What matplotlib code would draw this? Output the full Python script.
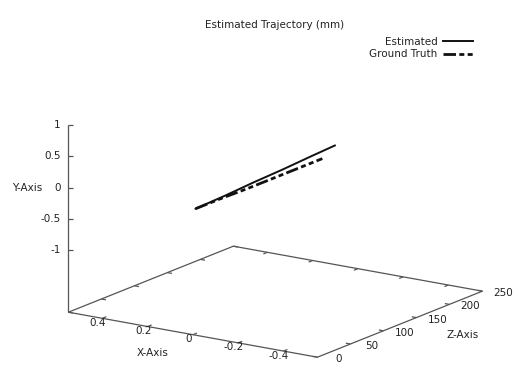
import numpy as np
import matplotlib
matplotlib.use("Agg")
import matplotlib.pyplot as plt
from mpl_toolkits.mplot3d import proj3d

# trajectory samples: lateral x, forward depth (mm), height
est_x     = [-0.012, -0.012, -0.012, -0.012, -0.012, -0.012]
est_depth = [0.0, 44.0, 88.0, 132.0, 176.0, 211.0]
est_y     = [0.03, 0.05, 0.08, 0.10, 0.13, 0.15]

gt_x      = [-0.012, -0.012, -0.012, -0.012, -0.012, -0.012]
gt_depth  = [0.0, 40.0, 80.0, 120.0, 160.0, 192.0]
gt_y      = [0.03, 0.03, 0.02, 0.02, 0.02, 0.02]

x_ticks = [0.4, 0.2, 0.0, -0.2, -0.4]
x_tick_labels = ["0.4", "0.2", "0", "-0.2", "-0.4"]
depth_ticks = [0, 50, 100, 150, 200, 250]
y_ticks = [-1, -0.5, 0, 0.5, 1]
y_tick_labels = ["-1", "-0.5", "0", "0.5", "1"]

X_LIM = (0.55, -0.55)      # reversed, like the original set xrange
D_LIM = (0, 250)
Y_LIM = (-1, 1)
BASE = Y_LIM[0] - 0.5 * (Y_LIM[1] - Y_LIM[0])   # ticslevel 0.5

W, H = 514, 369
TXT = "#222222"
FRAME = "#555555"
FS = 7.5

fig = plt.figure(figsize=(W / 100, H / 100), dpi=100)
ax = fig.add_axes([0, 0, 1, 1], projection="3d", proj_type="ortho")
ax.view_init(elev=15.6, azim=-56.1)
ax.set_box_aspect((1.0, 0.986, 0.647))
ax.set_xlim(*X_LIM)
ax.set_ylim(*D_LIM)
ax.set_zlim(BASE, Y_LIM[1])
ax.set_axis_off()


def to_px(pts):
    pts = np.asarray(pts, float)
    xs, ys, _ = proj3d.proj_transform(pts[:, 0], pts[:, 1], pts[:, 2], ax.get_proj())
    return ax.transData.transform(np.column_stack([xs, ys]))


# scale / shift the axes so the box corners sit where the gnuplot frame was
fig.canvas.draw()
corners = [[X_LIM[0], D_LIM[0], BASE], [X_LIM[1], D_LIM[0], BASE],
           [X_LIM[1], D_LIM[1], BASE], [X_LIM[0], D_LIM[1], BASE],
           [X_LIM[0], D_LIM[0], Y_LIM[1]]]
goal = np.array([[68, 312], [317, 357], [482, 291], [235, 247], [68, 125]], float)
goal[:, 1] = H - goal[:, 1]
got = to_px(corners)
A = np.zeros((2 * len(got), 3))
A[0::2, 0] = got[:, 0]; A[0::2, 1] = 1
A[1::2, 0] = got[:, 1]; A[1::2, 2] = 1
k, tx, ty = np.linalg.lstsq(A, goal.ravel(), rcond=None)[0]
bb = ax.get_position()
l0, b0, w0, h0 = bb.x0 * W, bb.y0 * H, bb.width * W, bb.height * H
ax.set_position([(k * l0 + tx) / W, (k * b0 + ty) / H, k * w0 / W, k * h0 / H])
fig.canvas.draw()

# pixel -> (x, depth) step in the base plane, for short tic marks
o = to_px([[0, 0, 0]])[0]
J2 = np.column_stack([to_px([[1, 0, 0]])[0] - o, to_px([[0, 1, 0]])[0] - o])


def nudge(x, d, z, right, down):
    sx, sd = np.linalg.solve(J2, [right, -down])
    return x + sx, d + sd, z


def label(x, d, z, right, down, s, ha="center"):
    # tic / axis label placed at a screen offset from its 3D anchor
    px, py = to_px([[x, d, z]])[0]
    fig.text((px + right) / W, (py - down) / H, s, ha=ha, va="center",
             fontsize=FS, color=TXT)


fk = dict(color=FRAME, lw=0.9, solid_capstyle="butt")
# base plane and the vertical axis
bx = [X_LIM[0], X_LIM[1], X_LIM[1], X_LIM[0], X_LIM[0]]
bd = [D_LIM[0], D_LIM[0], D_LIM[1], D_LIM[1], D_LIM[0]]
ax.plot(bx, bd, [BASE] * 5, **fk)
ax.plot([X_LIM[0]] * 2, [D_LIM[0]] * 2, [BASE, Y_LIM[1]], **fk)

# x tics on front and back edges (mirrored)
for xv, lab in zip(x_ticks, x_tick_labels):
    ax.plot([xv, xv], [D_LIM[0], D_LIM[0] + 6], [BASE, BASE], **fk)
    ax.plot([xv, xv], [D_LIM[1], D_LIM[1] - 6], [BASE, BASE], **fk)
    label(xv, D_LIM[0], BASE, -4.5, 4.5, lab)
label(0, D_LIM[0], BASE, -40, 18, "X-Axis")

# depth tics on right and left edges (mirrored)
for dv in depth_ticks:
    ax.plot([X_LIM[1], X_LIM[1] + 0.02], [dv, dv], [BASE, BASE], **fk)
    ax.plot([X_LIM[0], X_LIM[0] - 0.02], [dv, dv], [BASE, BASE], **fk)
    label(X_LIM[1], dv, BASE, 21, 2, str(dv))
label(X_LIM[1], 125, BASE, 62.5, 11, "Z-Axis")

# vertical tics
for yv, lab in zip(y_ticks, y_tick_labels):
    ex, ed, ez = nudge(X_LIM[0], D_LIM[0], yv, 4.5, 0)
    ax.plot([X_LIM[0], ex], [D_LIM[0], ed], [yv, ez], **fk)
    label(X_LIM[0], D_LIM[0], yv, -8, 0, lab, ha="right")
label(X_LIM[0], D_LIM[0], 0, -41, 0, "Y-Axis")

# trajectories
l_est, = ax.plot(est_x, est_depth, est_y, color="#111111", lw=1.4, label="Estimated")
l_gt, = ax.plot(gt_x, gt_depth, gt_y, color="#111111", lw=2.0,
                ls=(0, (4.5, 1.2, 1.8, 1.2, 1.8, 1.2)), label="Ground Truth")

fig.text(275 / W, 1 - 25 / H, "Estimated Trajectory (mm)", ha="center", va="center",
         fontsize=FS, color=TXT)
fig.legend(handles=[l_est, l_gt], loc="upper right", bbox_to_anchor=(473 / W, 1 - 37 / H),
           frameon=False, markerfirst=False, fontsize=FS, handlelength=2.9,
           handletextpad=0.5, labelspacing=0.22, borderpad=0, borderaxespad=0,
           labelcolor=TXT)

fig.savefig("out.png", dpi=100)
